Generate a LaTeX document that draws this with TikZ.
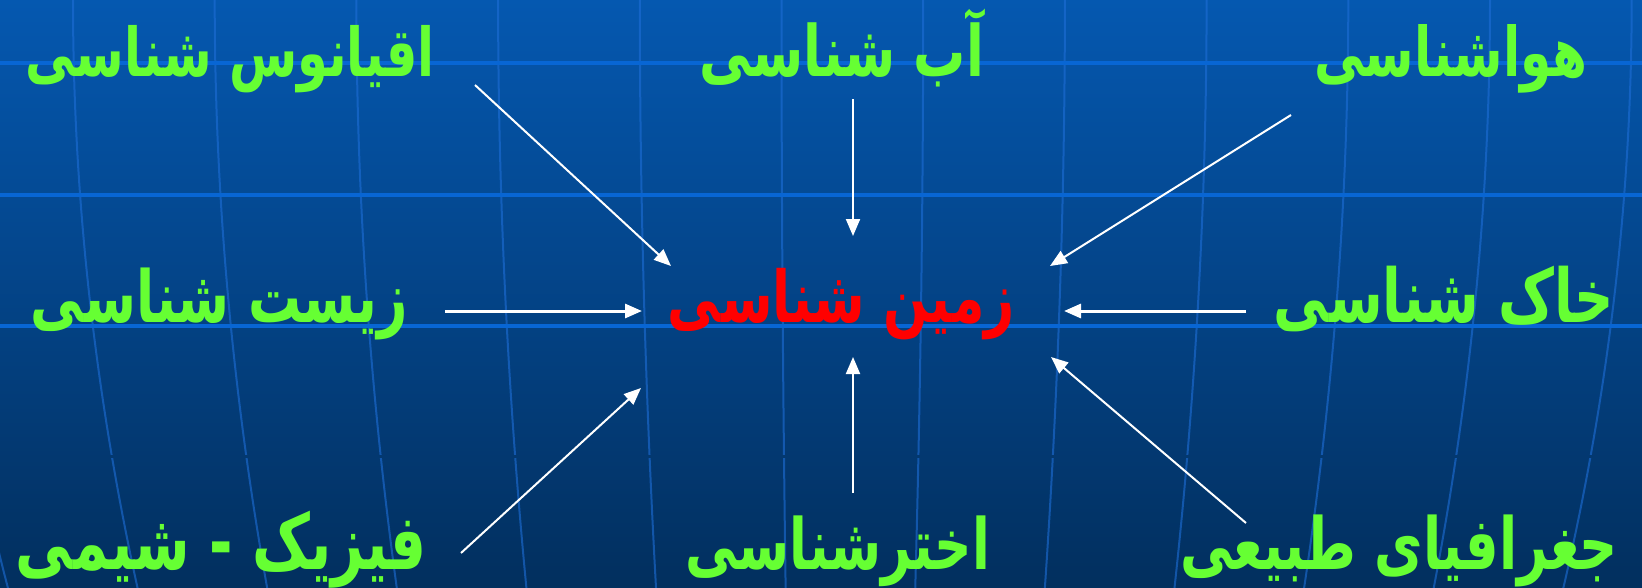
\documentclass[tikz,border=0pt]{standalone}
\usepackage{fontspec}
\usetikzlibrary{arrows.meta}
\TeXXeTstate=1
\newfontfamily\fa[Script=Arabic,BoldFont={DejaVu Sans Bold}]{DejaVu Sans}
\definecolor{bgtop}{RGB}{5,88,176}
\definecolor{bgbot}{RGB}{2,47,94}
\definecolor{gridh}{RGB}{8,102,212}
\definecolor{gridv}{RGB}{30,110,215}
\definecolor{lblgreen}{RGB}{102,255,51}
\definecolor{lblred}{RGB}{255,0,0}
\newcommand{\fatxt}[2]{\scalebox{1}[1.36]{\resizebox{#1}{!}{#2}}}
\begin{document}
\begin{tikzpicture}[x=1pt,y=-1pt,
  lbl/.style={inner sep=0pt, outer sep=0pt, anchor=base, text=lblgreen, font=\fa\bfseries},
  hub/.style={lbl, text=lblred},
  arr/.style={draw=white, line width=2pt, -{Triangle[length=17pt,width=14pt]}},
  harr/.style={arr, line width=3pt},
  hline/.style={draw=gridh, line width=3.5pt},
  mline/.style={draw=gridv, line width=2pt, opacity=0.6}]
\useasboundingbox (0,0) rectangle (1642,587);
\shade[top color=bgtop, bottom color=bgbot] (0,0) rectangle (1642,587);
% meridians
\foreach \i in {-1,...,12}{
  \pgfmathsetmacro{\xo}{73+141.7*\i}
  \draw[mline] plot[domain=0:590, samples=40, variable=\t]
    ({830+(\xo-830)*(1-0.085*(\t/587)*(\t/587))}, \t);
}
\draw[draw=bgbot!78!bgtop, line width=3pt] (0,456) -- (1642,456);
% parallels
\foreach \yy in {63,195,326}{
  \draw[hline] (0,\yy) -- (1642,\yy);
}
% labels
\node[lbl] (ocean) at (230.5,76) {\fatxt{409pt}{\beginR اقیانوس شناسی\endR}};
\node[lbl] (ab) at (842,76) {\fatxt{284pt}{\beginR آب شناسی\endR}};
\node[lbl] (hava) at (1450.5,76) {\fatxt{273pt}{\beginR هواشناسی\endR}};
\node[lbl] (zist) at (219.5,322) {\fatxt{377pt}{\beginR زیست شناسی\endR}};
\node[hub] (zamin) at (841.5,322) {\fatxt{347pt}{\beginR زمین شناسی\endR}};
\node[lbl] (khak) at (1444,322) {\fatxt{340pt}{\beginR خاک شناسی\endR}};
\node[lbl] (fizik) at (221.5,569) {\fatxt{411pt}{\beginR فیزیک - شیمی\endR}};
\node[lbl] (akhtar) at (838,569) {\fatxt{304pt}{\beginR اخترشناسی\endR}};
\node[lbl] (jogh) at (1399,569) {\fatxt{438pt}{\beginR جغرافیای طبیعی\endR}};
% arrow ends
\coordinate (ocean-s) at (475,85);   \coordinate (ocean-t) at (671,266);
\coordinate (ab-s) at (853,99);      \coordinate (ab-t) at (853,236);
\coordinate (hava-s) at (1291,115);  \coordinate (hava-t) at (1050,266);
\coordinate (zist-s) at (445,311);   \coordinate (zist-t) at (642,311);
\coordinate (khak-s) at (1246,311);  \coordinate (khak-t) at (1064,311);
\coordinate (fizik-s) at (461,553);  \coordinate (fizik-t) at (641,388);
\coordinate (akhtar-s) at (853,493); \coordinate (akhtar-t) at (853,357);
\coordinate (jogh-s) at (1246,523);  \coordinate (jogh-t) at (1051,357);
\draw[arr] (ocean-s) -- (ocean-t);
\draw[arr] (ab-s) -- (ab-t);
\draw[arr] (hava-s) -- (hava-t);
\draw[harr] (zist-s) -- (zist-t);
\draw[harr] (khak-s) -- (khak-t);
\draw[arr] (fizik-s) -- (fizik-t);
\draw[arr] (akhtar-s) -- (akhtar-t);
\draw[arr] (jogh-s) -- (jogh-t);
\end{tikzpicture}
\end{document}
